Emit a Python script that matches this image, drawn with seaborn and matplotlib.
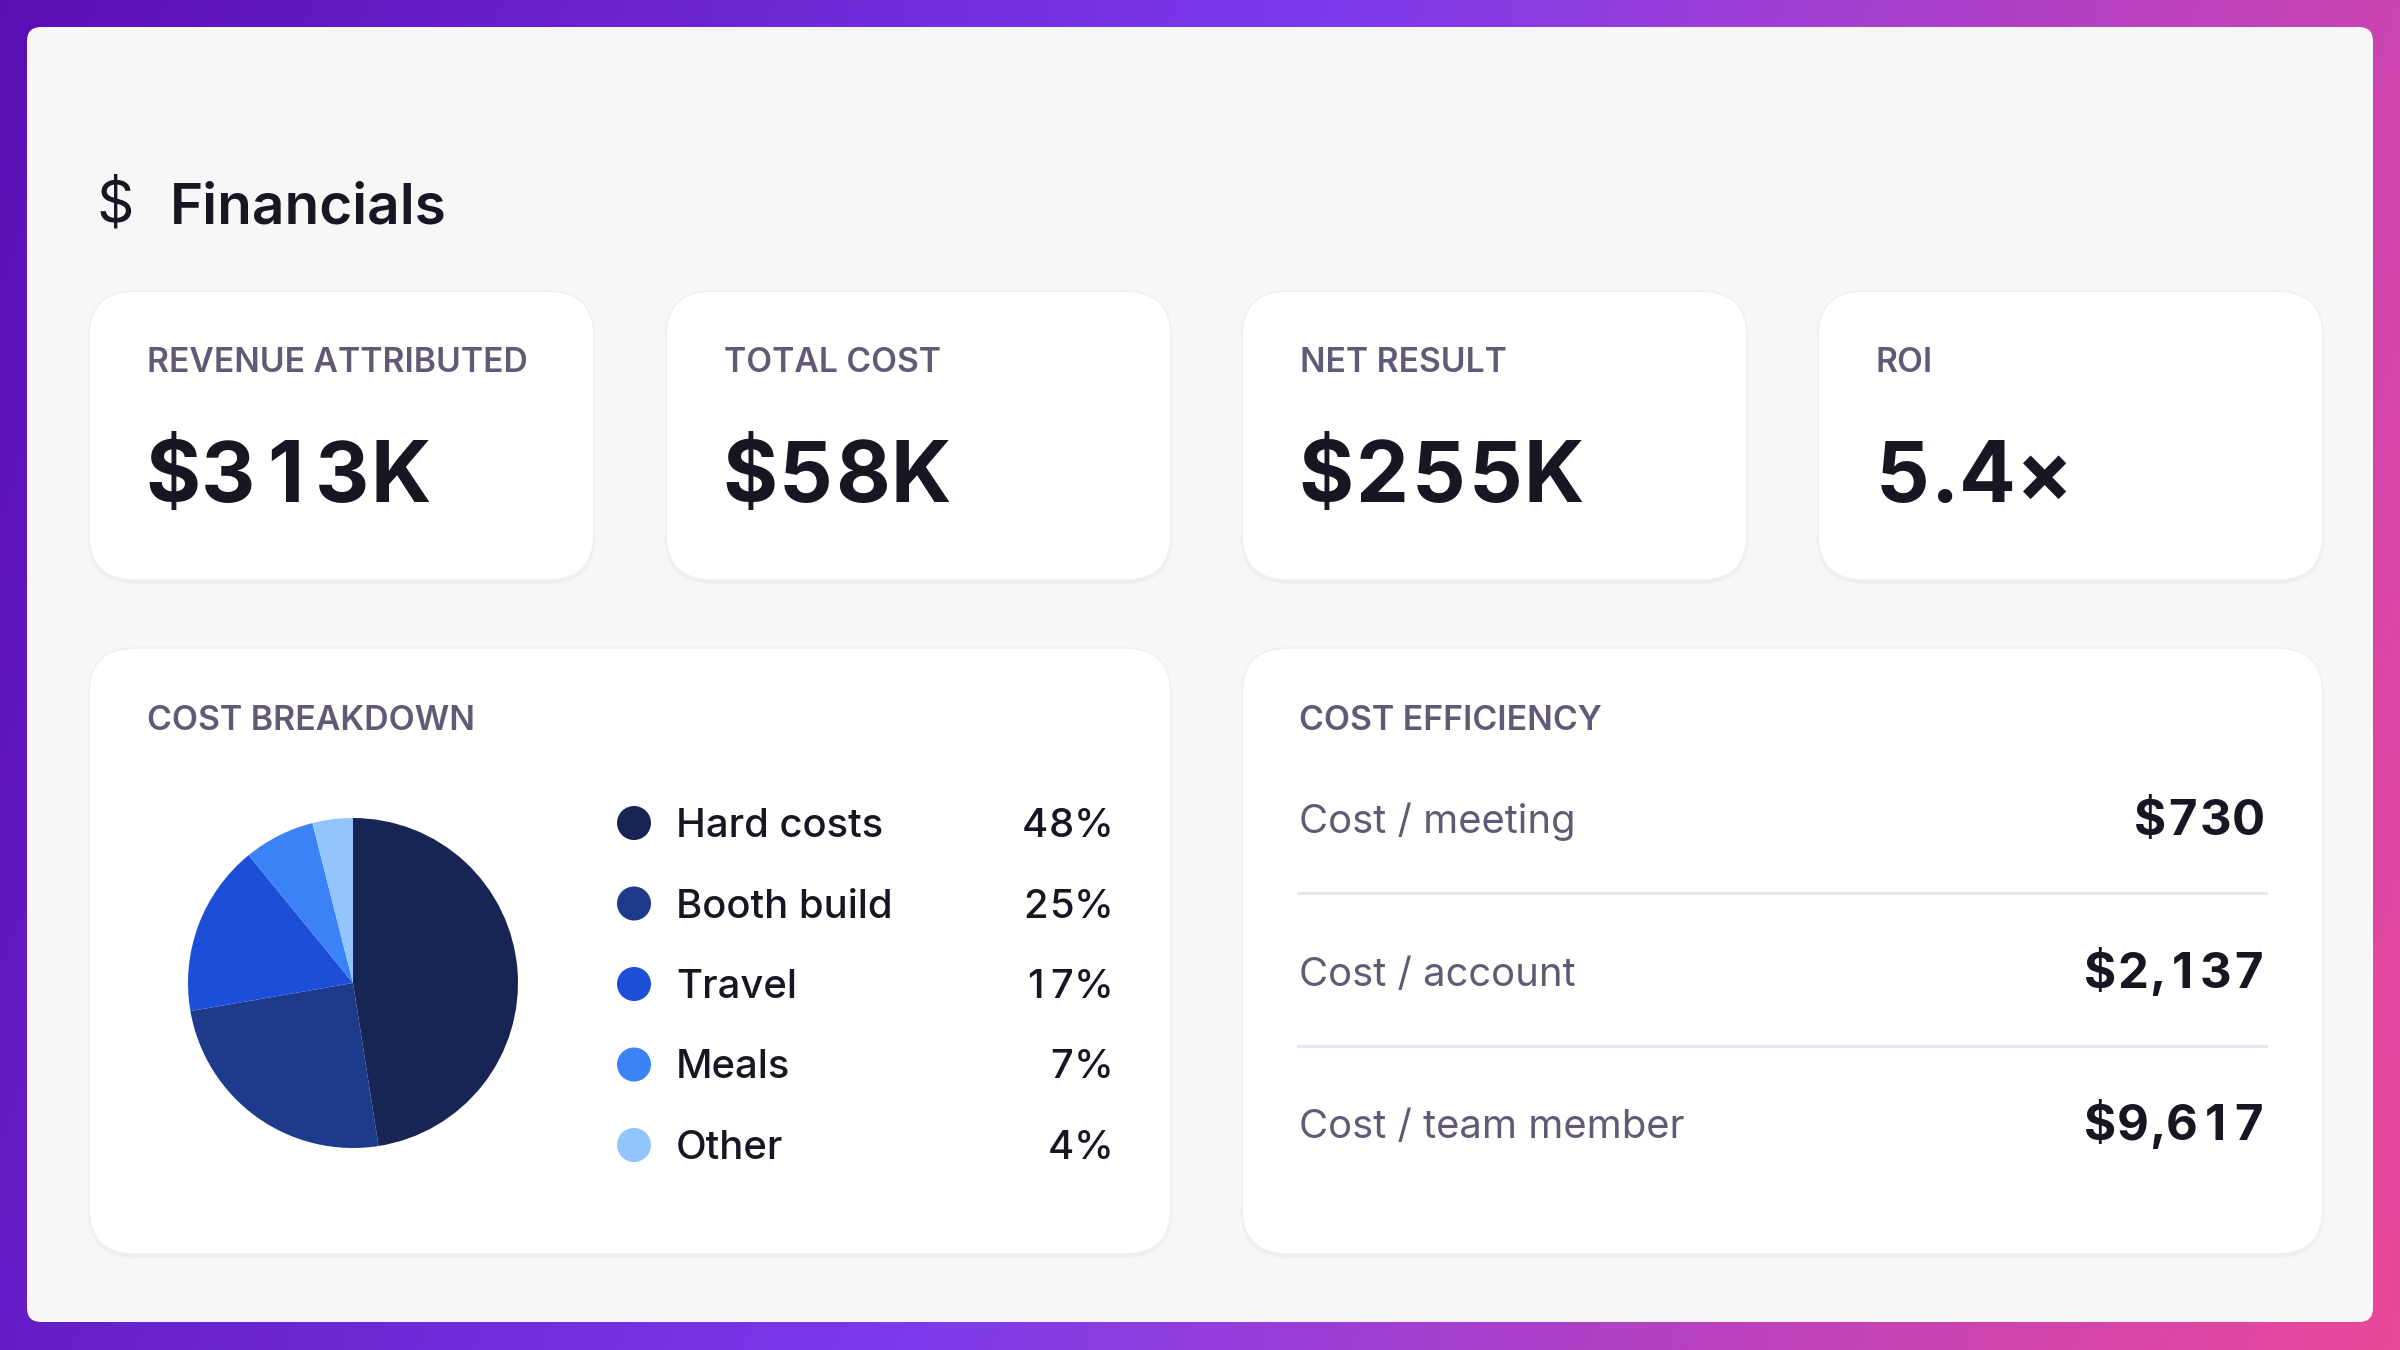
import numpy as np
import pandas as pd
import seaborn as sns
import matplotlib.pyplot as plt
from matplotlib.patches import FancyBboxPatch
from matplotlib.colors import LinearSegmentedColormap

# ---- data ----
kpi_labels = ["REVENUE ATTRIBUTED", "TOTAL COST", "NET RESULT", "ROI"]
kpi_values = ["$313K", "$58K", "$255K", "5.4×"]

cost_categories = ["Hard costs", "Booth build", "Travel", "Meals", "Other"]
cost_shares = [48, 25, 17, 7, 4]
cost_colors = ["#172554", "#1e3a8a", "#1d4ed8", "#3b82f6", "#93c5fd"]

efficiency_labels = ["Cost / meeting", "Cost / account", "Cost / team member"]
efficiency_values = [730, 2137, 9617]

sns.set_theme(style="white")
plt.rcParams['font.family'] = ['Inter', 'DejaVu Sans']

W, H = 2400, 1350
DARK = "#1a1523"
MUTED = "#625a75"

fig = plt.figure(figsize=(12, 6.75), dpi=200)
ax = fig.add_axes([0, 0, 1, 1])
ax.set_xlim(0, W)
ax.set_ylim(H, 0)
ax.axis("off")
renderer = fig.canvas.get_renderer()


def text_w(s, **kw):
    t = ax.text(0, 0, s, **kw)
    w = t.get_window_extent(renderer).width
    t.remove()
    return w


def tab_text(x, y, s, ha="left", **kw):
    # digits drawn on equal-width cells (tabular figures)
    base = text_w("HH", **kw)
    adv = lambda c: text_w("H" + c + "H", **kw) - base
    digit = adv("0")
    widths = [digit if c.isdigit() else adv(c) for c in s]
    cur = x - sum(widths) if ha == "right" else x
    for c, w in zip(s, widths):
        ax.text(cur + w / 2, y, c, ha="center", **kw)
        cur += w


# gradient backdrop
gx, gy = np.meshgrid(np.linspace(0, 1, 480), np.linspace(0, 1, 270))
t = (gx + 0.18 * gy) / 1.18
grad = LinearSegmentedColormap.from_list(
    "bg", [(0, "#5b0fb5"), (0.47, "#7c3aed"), (1, "#ec4899")])
ax.imshow(grad(t), extent=[0, W, H, 0], aspect="auto", zorder=0, interpolation="bilinear")

# main panel
ax.add_patch(FancyBboxPatch((27, 27), 2346, 1295, boxstyle="round,pad=0,rounding_size=14",
                            fc="#f7f7f8", ec="none", zorder=1))


def card(x, y, w, h):
    for i, a in enumerate([0.018, 0.012, 0.008]):
        ax.add_patch(FancyBboxPatch((x - i, y + 3 + i), w + 2 * i, h, boxstyle="round,pad=0,rounding_size=46",
                                    fc="black", ec="none", alpha=a, zorder=2))
    ax.add_patch(FancyBboxPatch((x, y), w, h, boxstyle="round,pad=0,rounding_size=46",
                                fc="white", ec="#f0eff3", lw=0.6, zorder=3))


# title
ax.text(96, 222, "$", fontsize=21, fontweight="normal", color=DARK, zorder=4)
ax.text(170, 224, "Financials", fontsize=20.4, fontweight="semibold", color=DARK, zorder=4)

# KPI cards
card_x = [89, 666, 1242, 1818]
for i, (lab, val) in enumerate(zip(kpi_labels, kpi_values)):
    x0 = card_x[i]
    card(x0, 291, 505, 289)
    ax.text(x0 + 58, 372, lab, fontsize=12.1, fontweight="semibold", color=MUTED, zorder=4)
    tab_text(x0 + 56, 502, val, fontsize=30.3, fontweight="bold", color=DARK, zorder=4)

# bottom cards
card(89, 648, 1082, 606)
card(1242, 648, 1081, 606)
ax.text(147, 730, "COST BREAKDOWN", fontsize=12.2, fontweight="semibold", color=MUTED, zorder=4)
ax.text(1299, 730, "COST EFFICIENCY", fontsize=12.2, fontweight="semibold", color=MUTED, zorder=4)

# pie
cx, cy, r = 353, 983, 165
ax_pie = fig.add_axes([(cx - r) / W, (H - cy - r) / H, 2 * r / W, 2 * r / H])
ax_pie.pie(cost_shares, colors=cost_colors, startangle=90, counterclock=False,
           wedgeprops=dict(linewidth=0))
ax_pie.set_xlim(-1, 1)
ax_pie.set_ylim(-1, 1)
ax_pie.set_zorder(5)

# legend rows
legend_df = pd.DataFrame({"category": cost_categories, "share": cost_shares})
legend_df["row"] = np.arange(len(legend_df))
legend_df["y"] = 823 + legend_df["row"] * 80.5
legend_df["x"] = 634
sns.scatterplot(data=legend_df, x="x", y="y", hue="category", palette=cost_colors,
                s=150, edgecolor="none", legend=False, ax=ax, zorder=6)
for _, row in legend_df.iterrows():
    ax.text(676, row["y"] + 14, row["category"], fontsize=14.4, fontweight="medium", color=DARK, zorder=6)
    tab_text(1114, row["y"] + 14, f"{row['share']}%", ha="right", fontsize=14.4,
             fontweight="medium", color=DARK, zorder=6)

# efficiency rows
for i, (lab, val) in enumerate(zip(efficiency_labels, efficiency_values)):
    base = 833 + i * 152.5
    ax.text(1299, base, lab, fontsize=14.4, color=MUTED, zorder=6)
    tab_text(2265, base + 2, f"${val:,}", ha="right", fontsize=17.7, fontweight="bold",
             color=DARK, zorder=6)
    if i < len(efficiency_labels) - 1:
        ax.plot([1298, 2266], [base + 60, base + 60], color="#e6e4ec", lw=1.1, zorder=6)

fig.savefig("out.png", dpi=200)
